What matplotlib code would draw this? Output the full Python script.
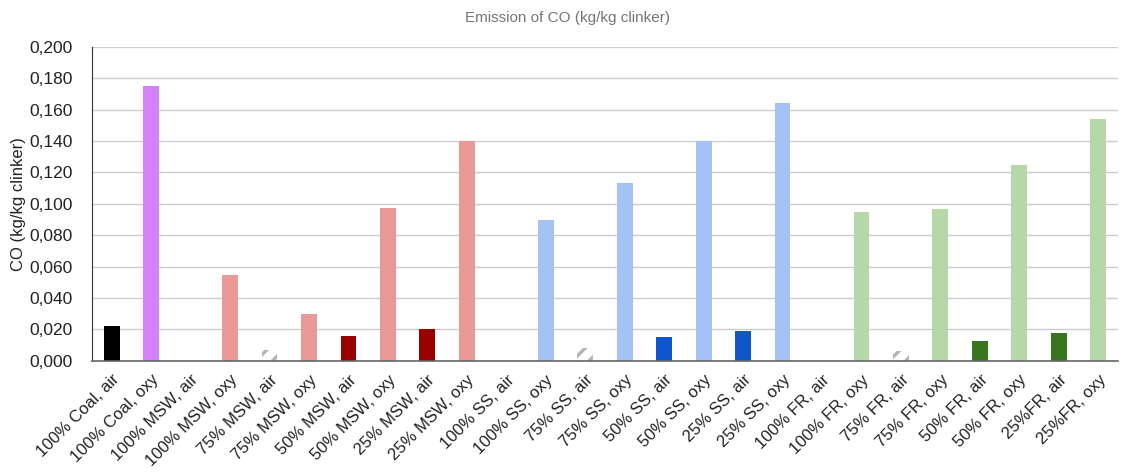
import numpy as np
import matplotlib.pyplot as plt
from matplotlib.ticker import FuncFormatter

plt.rcParams['font.family'] = ['Liberation Sans', 'DejaVu Sans']
plt.rcParams['hatch.linewidth'] = 2.5

# data
labels = ['100% Coal, air', '100% Coal, oxy', '100% MSW, air', '100% MSW, oxy',
          '75% MSW, air', '75% MSW, oxy', '50% MSW, air', '50% MSW, oxy',
          '25% MSW, air', '25% MSW, oxy', '100% SS, air', '100% SS, oxy',
          '75% SS, air', '75% SS, oxy', '50% SS, air', '50% SS, oxy',
          '25% SS, air', '25% SS, oxy', '100% FR, air', '100% FR, oxy',
          '75% FR, air', '75% FR, oxy', '50% FR, air', '50% FR, oxy',
          '25%FR, air', '25%FR, oxy']
values = [0.022, 0.175, 0.000, 0.055,
          0.007, 0.030, 0.016, 0.0975,
          0.020, 0.140, 0.000, 0.090,
          0.008, 0.113, 0.015, 0.140,
          0.019, 0.164, 0.000, 0.095,
          0.006, 0.097, 0.0125, 0.125,
          0.018, 0.154]
colors = ['#000000', '#d580ff', '#ea9999', '#ea9999',
          'white', '#ea9999', '#990000', '#ea9999',
          '#990000', '#ea9999', '#a4c2f4', '#a4c2f4',
          'white', '#a4c2f4', '#1155cc', '#a4c2f4',
          '#1155cc', '#a4c2f4', '#b6d7a8', '#b6d7a8',
          'white', '#b6d7a8', '#38761d', '#b6d7a8',
          '#38761d', '#b6d7a8']
hatched = [4, 12, 20]

fig = plt.figure(figsize=(11.35, 4.73), dpi=100)
ax = fig.add_axes([0.081, 0.237, 0.904, 0.664])

x = np.arange(len(labels))
bars = ax.bar(x, values, width=0.4, color=colors, linewidth=0, zorder=2)
for i in hatched:
    bars[i].set_hatch('//')
    bars[i].set_edgecolor('#b5b5b5')
    bars[i].set_linewidth(0)

ax.set_xlim(-0.5, len(labels) - 0.5)
ax.set_ylim(0, 0.2)
ax.set_yticks(np.arange(0, 0.201, 0.02))
ax.yaxis.set_major_formatter(FuncFormatter(lambda v, p: f'{v:.3f}'.replace('.', ',')))
ax.set_xticks(x)
ax.set_xticklabels(labels, rotation=45, ha='right', rotation_mode='anchor', fontsize=12)
ax.tick_params(axis='y', labelsize=12.5, length=0, pad=14, colors='#222222')
ax.tick_params(axis='x', length=0, pad=8, colors='#222222')

ax.grid(axis='y', color='#cccccc', linewidth=1, zorder=0)
ax.set_axisbelow(True)
for s in ['top', 'right']:
    ax.spines[s].set_visible(False)
ax.spines['left'].set_color('#333333')
ax.spines['bottom'].set_color('#666666')
ax.spines['bottom'].set_linewidth(1.2)
ax.spines['bottom'].set_zorder(5)

ax.set_ylabel('CO (kg/kg clinker)', fontsize=12, color='#222222', labelpad=2)
fig.text(0.5, 0.963, 'Emission of CO (kg/kg clinker)', ha='center', va='center',
         fontsize=11, color='#757575')

fig.savefig('out.png', dpi=100)
